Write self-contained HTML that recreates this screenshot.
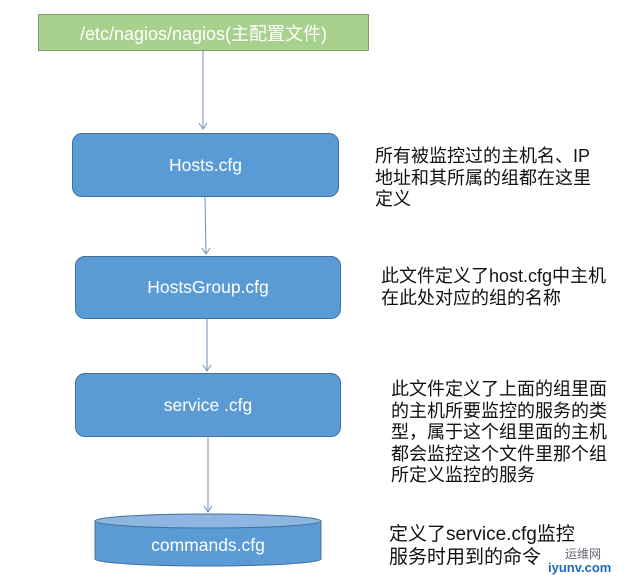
<!DOCTYPE html>
<html><head><meta charset="utf-8"><style>
body{margin:0;width:627px;height:584px;background:#fff;position:relative;overflow:hidden;font-family:"Liberation Sans","Noto Sans CJK SC",sans-serif}
.b{position:absolute;background:#5b9bd5;border:1px solid #41719c;border-radius:10px;color:#fff;font-size:17.5px;display:flex;align-items:center;justify-content:center;box-sizing:border-box}
.t{position:absolute;font-size:18px;line-height:21.5px;color:#111;white-space:nowrap}
</style></head><body>
<div class="b" style="left:38px;top:14px;width:331px;height:37px;background:#a9d18e;border-color:#7f9f6a;border-radius:0;font-size:18px">/etc/nagios/nagios(主配置文件)</div>
<div class="b" style="left:72px;top:133px;width:267px;height:64px">Hosts.cfg</div>
<div class="b" style="left:75px;top:256px;width:266px;height:63px">HostsGroup.cfg</div>
<div class="b" style="left:75px;top:373px;width:266px;height:64px">service .cfg</div>
<svg style="position:absolute;left:0;top:0" width="627" height="584">
<g stroke="#6f8fc0" stroke-width="1" fill="none">
<line x1="203" y1="51" x2="203" y2="129"/><polyline points="199,123 203,129 207,123"/>
<line x1="205" y1="197" x2="206" y2="254"/><polyline points="202,248 206,254 210,248"/>
<line x1="207" y1="319" x2="207" y2="371"/><polyline points="203,365 207,371 211,365"/>
<line x1="208" y1="437" x2="208" y2="512"/><polyline points="204,506 208,512 212,506"/>
</g>
<path d="M95,521 L95,559 A113,7 0 0 0 321,559 L321,521" fill="#5b9bd5" stroke="#41719c"/>
<ellipse cx="208" cy="521" rx="113" ry="7" fill="#8fb6e0" stroke="#41719c"/>
<text x="208" y="551" fill="#fff" font-size="17.5" text-anchor="middle" font-family="Liberation Sans,sans-serif">commands.cfg</text>
</svg>
<div class="t" style="left:375px;top:146px">所有被监控过的主机名、IP<br>地址和其所属的组都在这里<br>定义</div>
<div class="t" style="left:381px;top:266px">此文件定义了host.cfg中主机<br>在此处对应的组的名称</div>
<div class="t" style="left:391px;top:379px">此文件定义了上面的组里面<br>的主机所要监控的服务的类<br>型，属于这个组里面的主机<br>都会监控这个文件里那个组<br>所定义监控的服务</div>
<div class="t" style="left:389px;top:523px;font-size:19px;line-height:23px">定义了service.cfg监控<br>服务时用到的命令</div>
<div style="position:absolute;left:565px;top:545px;font-size:12px;color:#667">运维网</div>
<div style="position:absolute;left:548px;top:560px;font-size:13px;color:#1a6bbf;font-weight:bold">iyunv.com</div>
</body></html>
